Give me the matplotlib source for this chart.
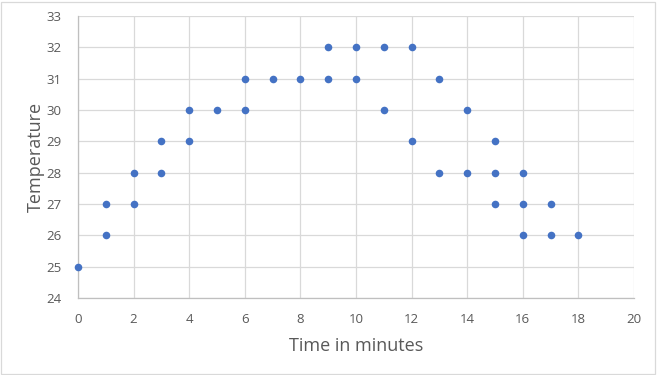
import matplotlib
matplotlib.use('Agg')
import matplotlib.pyplot as plt
from matplotlib.patches import Rectangle

# --- data ---
minutes = [0, 1, 1, 2, 2, 3, 3, 4, 4, 5, 6, 6, 7, 8, 9, 9, 10, 10, 11, 11,
           12, 12, 13, 13, 14, 14, 15, 15, 15, 16, 16, 16, 17, 17, 18]
temps = [25, 26, 27, 27, 28, 28, 29, 29, 30, 30, 30, 31, 31, 31, 31, 32, 31, 32, 30, 32,
         29, 32, 28, 31, 28, 30, 27, 28, 29, 26, 27, 28, 26, 27, 26]

x_ticks = list(range(0, 21, 2))
y_ticks = list(range(24, 34))

# --- style ---
DOT = "#4472C4"
GRID = "#d9d9d9"
TEXT = "#595959"
plt.rcParams['font.family'] = ['Open Sans', 'DejaVu Sans']

fig = plt.figure(figsize=(6.57, 3.75), dpi=100)
ax = fig.add_axes([78 / 657, 1 - 298 / 375, (634 - 78) / 657, (298 - 16) / 375])

ax.scatter(minutes, temps, s=30, color=DOT, zorder=3, clip_on=False, linewidths=0)

ax.set_xlim(0, 20)
ax.set_ylim(24, 33)
ax.set_xticks(x_ticks)
ax.set_yticks(y_ticks)
ax.grid(True, color=GRID, linewidth=0.9, zorder=0)
ax.set_axisbelow(True)

for side in ['top', 'right']:
    ax.spines[side].set_visible(False)
for side in ['left', 'bottom']:
    ax.spines[side].set_color("#bfbfbf")
    ax.spines[side].set_linewidth(0.9)

ax.tick_params(length=0, labelsize=9.5, colors=TEXT)
ax.tick_params(axis='x', pad=11)
ax.tick_params(axis='y', pad=12)
ax.set_xlabel("Time in minutes", fontsize=13, color=TEXT, labelpad=8)
ax.set_ylabel("Temperature", fontsize=13, color=TEXT, labelpad=1)

# thin outer border like the chart frame
fig.patches.append(Rectangle((0.002, 0.003), 0.995, 0.993, transform=fig.transFigure,
                             fill=False, edgecolor="#d9d9d9", linewidth=0.9))

fig.savefig("out.png", dpi=100, facecolor="white")
